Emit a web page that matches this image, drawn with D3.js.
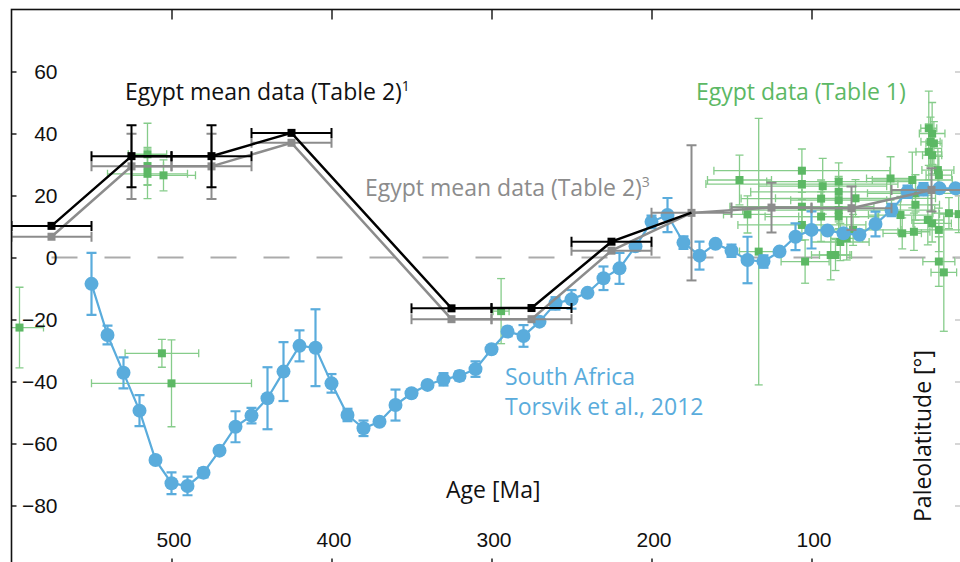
<!DOCTYPE html>
<html>
<head>
<meta charset="utf-8">
<script src="https://cdn.jsdelivr.net/npm/d3@7"></script>
<style>
  html, body { margin: 0; padding: 0; background: #fff; }
  svg { display: block; }
</style>
</head>
<body>
<div id="chart"></div>
<script>
// --- data (age in Ma, paleolatitude in degrees) ---

// Egypt mean data (Table 2)^1 - black
const meanAge1 = [575, 525, 475, 425, 325, 275, 225, 175];
const meanLat1 = [10.2, 32.7, 32.7, 40.2, -16.4, -16.3, 5.1, 14.5];
const meanAgeErr1 = [25, 25, 25, 25, 25, 25, 25, 0];
const meanLatErr1 = [0, 10, 10, 0, 0, 0, 0, 0];

// Egypt mean data (Table 2)^3 - gray
const meanAge3 = [575, 525, 475, 425, 325, 275, 225, 175, 125, 75, 25];
const meanLat3 = [6.7, 29.4, 29.4, 37.0, -19.9, -19.9, 2.2, 14.4, 16.1, 15.9, 21.8];
const meanAgeErr3 = [25, 25, 25, 25, 25, 25, 25, 25, 25, 25, 25];
const meanLatErr3 = [0, 10.5, 10.5, 0, 0, 0, 0, 21.8, 8, 7, 7];

// South Africa, Torsvik et al., 2012 - blue
const saAge = [550, 540, 530, 520, 510, 500, 490, 480, 470, 460, 450, 440, 430, 420, 410,
  400, 390, 380, 370, 360, 350, 340, 330, 320, 310, 300, 290, 280, 270, 260, 250, 240,
  230, 220, 210, 200, 190, 180, 170, 160, 150, 140, 130, 120, 110, 100, 90, 80, 70, 60,
  50, 40, 30, 20, 10];
const saLat = [-8.5, -25, -37.2, -49.4, -65.3, -72.8, -73.7, -69.4, -62.3, -54.6, -51.0,
  -45.4, -36.8, -28.5, -29.1, -40.6, -50.8, -55.1, -53.0, -47.6, -43.8, -41.1, -39.3,
  -38.2, -36.0, -29.6, -23.9, -25.3, -20.7, -14.8, -13.5, -11.4, -6.7, -3.5, 3.6, 11.5,
  13.7, 4.8, 0.6, 4.4, 2.2, -0.8, -1.3, 1.9, 6.7, 8.9, 8.7, 7.8, 7.3, 10.8, 15.3, 21.2,
  22.0, 22.3, 22.3];
const saLatErr = [10, 3, 5, 5, 1, 3.5, 3, 1.5, 1, 5, 2.5, 10, 9.5, 5, 12.4, 3, 2, 2.5, 1,
  5, 1, 1, 2, 1.5, 2.5, 1, 1.5, 3.5, 1, 2, 3, 1, 3.8, 5, 1.5, 2, 5.5, 2, 4.5, 1, 2, 7.5,
  2, 1, 4.3, 6, 1, 1, 1, 4, 2, 2, 2, 1, 1];

// Egypt data (Table 1) - green
const egAge = [595, 506, 500, 515, 515, 515, 505, 294, 145, 140, 133, 106, 106, 106, 106,
  104, 93, 94, 94, 88, 85, 83, 83, 83, 83, 83, 78, 82, 74, 72.5, 50.6, 37, 35, 35, 44.4,
  43.3, 36, 26.7, 24.6, 25.6, 23.5, 26.7, 24.6, 21, 20.4, 27.3, 24.6, 20.4, 14.1, 20.4,
  17.3, 8];
const egLat = [-22.6, -30.9, -40.6, 33.3, 29.5, 27, 26.5, -17.3, 25, 13.9, 1.9, 28, 23.7,
  16.4, 10.5, -1.3, 23, 13.2, 19, 0.8, 0.8, 24.5, 21.2, 18.5, 15.3, 13.2, 6.2, 5, 8.9,
  19.1, 25.5, 25, 20.7, 17, 13.7, 7.8, 8.3, 41.7, 40, 37.3, 36.8, 34.1, 33, 28.2, 26.6,
  12.1, 11, 8.9, 14.3, -1.3, -4.8, 14];
const egAgeErr = [15, 23, 50, 12, 10, 25, 20, 5, 20, 15, 12, 55, 60, 45, 40, 15, 40, 35,
  50, 12, 10, 45, 55, 30, 60, 25, 10, 18, 30, 50, 15, 25, 30, 15, 20, 12, 10, 5, 8, 6, 5,
  8, 6, 10, 8, 10, 12, 15, 10, 10, 8, 12];
const egLatErr = [13, 4.5, 14, 10, 6, 8, 5, 10.5, 8, 6, 43, 7, 5, 6, 5, 7, 9, 8, 6, 8, 5,
  6, 5, 7, 6, 5, 7, 6, 5, 6, 7, 9, 6, 5, 6, 5, 6, 12, 10, 8, 7, 9, 6, 7, 6, 8, 6, 7, 5,
  8, 19, 6];

// axis ticks
const ageTicks = [500, 400, 300, 200, 100];
const latTicks = [60, 40, 20, 0, -20, -40, -60, -80];

// --- layout ---
const width = 960;
const height = 562;
const plot = { left: 11.5, right: 971.5, top: 9.5, bottom: 567.5 };

const blue = '#5aacdc';
const green = '#5cb864';
const greenBar = '#86cc8a';
const gray = '#8c8c8c';
const textFont = '"Open Sans", "Noto Sans", sans-serif';
const tickFont = '"Liberation Sans", Arial, sans-serif';

const svg = d3.select('#chart').append('svg')
  .attr('width', width)
  .attr('height', height);

const x = d3.scaleLinear().domain([600, 0]).range([plot.left, plot.right]);
const y = d3.scaleLinear().domain([-100, 80]).range([plot.bottom, plot.top]);

svg.append('defs').append('clipPath').attr('id', 'plot-clip')
  .append('rect')
  .attr('x', plot.left).attr('y', plot.top)
  .attr('width', plot.right - plot.left).attr('height', plot.bottom - plot.top);

const zip = (ages, lats, ageErr, latErr) => ages.map((a, i) => ({
  age: a, lat: lats[i], ageErr: ageErr ? ageErr[i] : 0, latErr: latErr ? latErr[i] : 0,
}));

const mean1 = zip(meanAge1, meanLat1, meanAgeErr1, meanLatErr1);
const mean3 = zip(meanAge3, meanLat3, meanAgeErr3, meanLatErr3);
const southAfrica = zip(saAge, saLat, null, saLatErr);
const egypt = zip(egAge, egLat, egAgeErr, egLatErr);

const g = svg.append('g').attr('clip-path', 'url(#plot-clip)');

// zero line
g.append('line')
  .attr('x1', x(575)).attr('x2', x(0))
  .attr('y1', y(0)).attr('y2', y(0))
  .attr('stroke', '#ababab')
  .attr('stroke-width', 2)
  .attr('stroke-dasharray', '26,27');

// error bars with caps
function errorBars(layer, data, color, sw, cap) {
  const eb = layer.append('g')
    .attr('stroke', color)
    .attr('stroke-width', sw)
    .attr('fill', 'none');
  data.forEach(d => {
    if (d.latErr > 0) {
      const y0 = y(d.lat - d.latErr);
      const y1 = y(d.lat + d.latErr);
      eb.append('line').attr('x1', x(d.age)).attr('x2', x(d.age)).attr('y1', y0).attr('y2', y1);
      eb.append('line').attr('x1', x(d.age) - cap / 2).attr('x2', x(d.age) + cap / 2).attr('y1', y0).attr('y2', y0);
      eb.append('line').attr('x1', x(d.age) - cap / 2).attr('x2', x(d.age) + cap / 2).attr('y1', y1).attr('y2', y1);
    }
    if (d.ageErr > 0) {
      const x0 = x(d.age + d.ageErr);
      const x1 = x(d.age - d.ageErr);
      eb.append('line').attr('x1', x0).attr('x2', x1).attr('y1', y(d.lat)).attr('y2', y(d.lat));
      eb.append('line').attr('x1', x0).attr('x2', x0).attr('y1', y(d.lat) - cap / 2).attr('y2', y(d.lat) + cap / 2);
      eb.append('line').attr('x1', x1).attr('x2', x1).attr('y1', y(d.lat) - cap / 2).attr('y2', y(d.lat) + cap / 2);
    }
  });
}

const line = d3.line().x(d => x(d.age)).y(d => y(d.lat));

// green Egypt data
errorBars(g, egypt, greenBar, 1.3, 8);
g.append('g').selectAll('rect')
  .data(egypt)
  .enter()
  .append('rect')
  .attr('x', d => x(d.age) - 4)
  .attr('y', d => y(d.lat) - 4)
  .attr('width', 8)
  .attr('height', 8)
  .attr('fill', green);

// blue South Africa APWP
errorBars(g, southAfrica, blue, 2.2, 10);
g.append('path')
  .datum(southAfrica)
  .attr('fill', 'none')
  .attr('stroke', blue)
  .attr('stroke-width', 2.2)
  .attr('d', line);
g.append('g').selectAll('circle')
  .data(southAfrica)
  .enter()
  .append('circle')
  .attr('cx', d => x(d.age))
  .attr('cy', d => y(d.lat))
  .attr('r', 7)
  .attr('fill', blue);

// gray mean data
errorBars(g, mean3, gray, 2, 10);
g.append('path')
  .datum(mean3)
  .attr('fill', 'none')
  .attr('stroke', gray)
  .attr('stroke-width', 2.5)
  .attr('d', line);
g.append('g').selectAll('rect')
  .data(mean3)
  .enter()
  .append('rect')
  .attr('x', d => x(d.age) - 4)
  .attr('y', d => y(d.lat) - 4)
  .attr('width', 8)
  .attr('height', 8)
  .attr('fill', gray);

// black mean data
errorBars(g, mean1, '#000', 2, 10);
g.append('path')
  .datum(mean1)
  .attr('fill', 'none')
  .attr('stroke', '#000')
  .attr('stroke-width', 2.5)
  .attr('d', line);
g.append('g').selectAll('rect')
  .data(mean1.filter(d => d.ageErr > 0))
  .enter()
  .append('rect')
  .attr('x', d => x(d.age) - 4)
  .attr('y', d => y(d.lat) - 4)
  .attr('width', 8)
  .attr('height', 8)
  .attr('fill', '#000');

// frame
svg.append('rect')
  .attr('x', plot.left).attr('y', plot.top)
  .attr('width', plot.right - plot.left).attr('height', plot.bottom - plot.top)
  .attr('fill', 'none')
  .attr('stroke', '#111')
  .attr('stroke-width', 1.6);

// axes: ticks point inward
const styleAxis = sel => {
  sel.select('.domain').remove();
  sel.selectAll('.tick line').attr('stroke', '#111').attr('stroke-width', 1.4);
  sel.selectAll('.tick text')
    .attr('font-family', tickFont)
    .attr('font-size', 21)
    .attr('fill', '#111');
};

svg.append('g')
  .attr('transform', `translate(0,${plot.bottom})`)
  .call(d3.axisTop(x).tickValues(ageTicks).tickSize(9).tickPadding(4))
  .call(styleAxis)
  .call(sel => sel.selectAll('.tick text').attr('dx', 2).attr('y', -21));

svg.append('g')
  .attr('transform', `translate(0,${plot.top})`)
  .call(d3.axisBottom(x).tickValues(ageTicks).tickSize(10).tickFormat(''))
  .call(styleAxis);

svg.append('g')
  .attr('transform', `translate(${plot.left},0)`)
  .call(d3.axisRight(y).tickValues(latTicks).tickSize(5))
  .call(styleAxis)
  .call(sel => sel.selectAll('.tick text').attr('x', 46).attr('text-anchor', 'end'));

svg.append('g')
  .attr('transform', `translate(${width + 1},0)`)
  .call(d3.axisLeft(y).tickValues(latTicks).tickSize(6).tickFormat(''))
  .call(styleAxis)
  .call(sel => sel.selectAll('.tick line').attr('stroke', '#c4c4c4'));

// labels
const label = (tx, ty, txt, color) => svg.append('text')
  .attr('x', tx)
  .attr('y', ty)
  .attr('font-family', textFont)
  .attr('font-size', 23)
  .attr('fill', color)
  .text(txt);

label(125, 100, 'Egypt mean data (Table 2)', '#111')
  .append('tspan').attr('dy', -9).attr('font-size', 14).text('1');
label(365, 196, 'Egypt mean data (Table 2)', gray)
  .append('tspan').attr('dy', -9).attr('font-size', 14).text('3');
label(696, 100, 'Egypt data (Table 1)', green);
label(505, 385, 'South Africa', blue);
label(505, 415, 'Torsvik et al., 2012', blue);
label(446, 498, 'Age [Ma]', '#111');

svg.append('text')
  .attr('transform', 'translate(931,436) rotate(-90)')
  .attr('text-anchor', 'middle')
  .attr('font-family', textFont)
  .attr('font-size', 23)
  .attr('fill', '#111')
  .text('Paleolatitude [°]');
</script>
</body>
</html>
